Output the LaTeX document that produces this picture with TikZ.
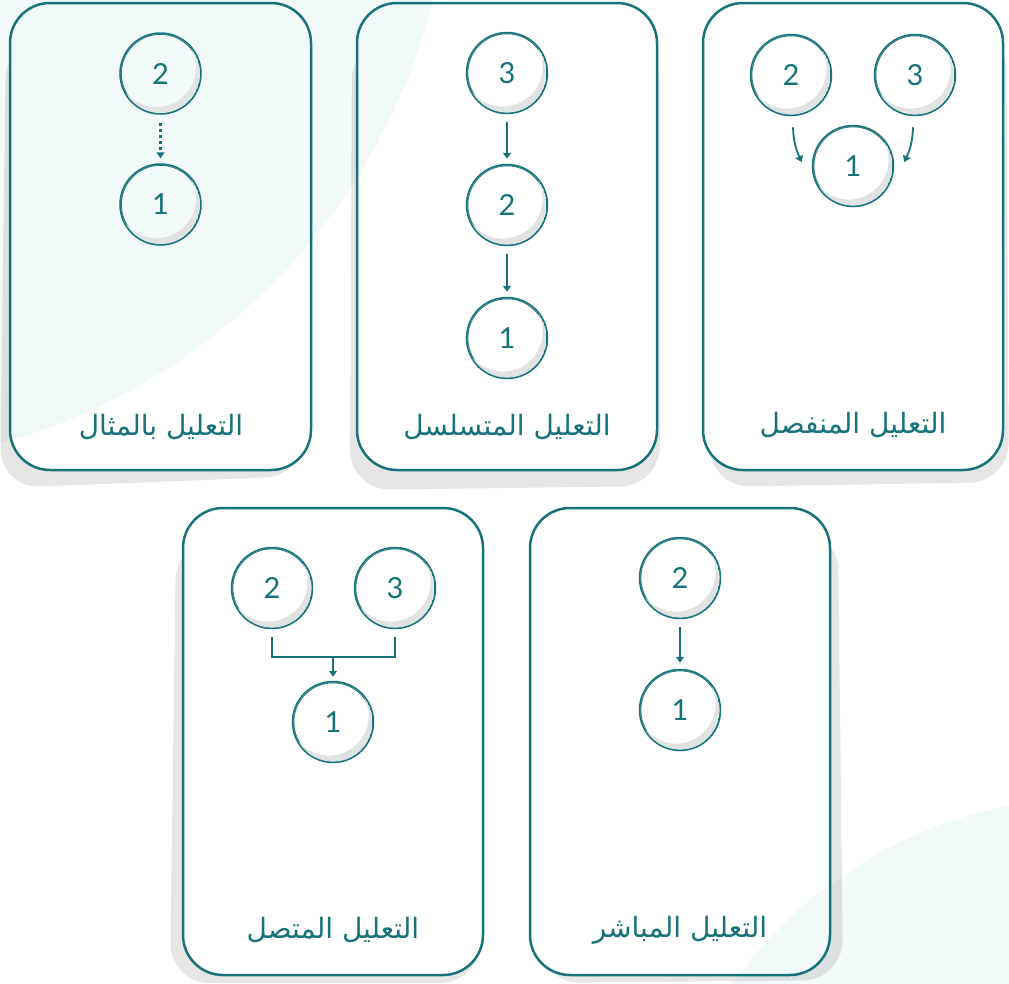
\documentclass[tikz,border=0pt]{standalone}
\usepackage{fontspec}
\usetikzlibrary{arrows.meta,calc}
\TeXXeTstate=1
\newfontfamily\arabicfont[Script=Arabic]{DejaVu Sans}
\newfontfamily\numfont{Lato}
\definecolor{tealc}{HTML}{17727A}
\definecolor{crescentc}{HTML}{E1E3E3}
\definecolor{shadowc}{HTML}{E6E6E6}
\definecolor{tintc}{RGB}{30,150,150}
\newcommand{\crescent}[1]{%
  \begin{scope}
    \clip (#1) circle (39.6pt);
    \fill[crescentc, even odd rule] (#1) circle (39.6pt) ([shift={(-4pt,6pt)}]#1) circle (39.6pt);
  \end{scope}}
\begin{document}
\begin{tikzpicture}[x=1pt,y=-1pt,
  cardbox/.style={draw=tealc, line width=2.5pt, rounded corners=40pt},
  cardfill/.style={fill=white, rounded corners=40pt},
  shad/.style={fill=shadowc, rounded corners=40pt},
  circ/.style={circle, draw=tealc, line width=2.5pt, minimum size=80pt, inner sep=0pt,
    text=tealc, font=\numfont\fontsize{29}{29}\selectfont},
  lab/.style={text=tealc, font=\arabicfont\fontsize{28}{32}\selectfont, inner sep=0pt},
  conn/.style={draw=tealc, line width=1.8pt},
  tip/.style={-{Triangle[length=6pt,width=8pt]}}]
\useasboundingbox (0,0) rectangle (1009,983);
\fill[white] (0,0) rectangle (1009,983);
% shadows
\fill[shad] (6,40) -- (0,488) -- (305,476) -- (305,40) -- cycle;
\fill[shad] (352,40) -- (350,490) -- (660,486) -- (660,40) -- cycle;
\fill[shad] (710,40) -- (710,487) -- (1009,482) -- (1006,30) -- cycle;
\fill[shad] (176,540) -- (170,983) -- (480,983) -- (480,540) -- cycle;
\fill[shad] (540,540) -- (540,983) -- (843,980) -- (838,530) -- cycle;
% card fills
\fill[cardfill] (10,3) rectangle (311,470);
\fill[cardfill] (357,3) rectangle (657,470);
\fill[cardfill] (703,3) rectangle (1003,470);
\fill[cardfill] (183,508) rectangle (483,975);
\fill[cardfill] (530,508) rectangle (830,975);
% background tint circles
\fill[tintc, opacity=0.053] (-166,-152) circle (618pt);
\fill[tintc, opacity=0.053] (1097,1247) circle (450pt);
% card borders
\draw[cardbox] (10,3) rectangle (311,470);
\draw[cardbox] (357,3) rectangle (657,470);
\draw[cardbox] (703,3) rectangle (1003,470);
\draw[cardbox] (183,508) rectangle (483,975);
\draw[cardbox] (530,508) rectangle (830,975);
% card 1
\node[circ] (a2) at (160.5,73.5) {2};
\node[circ] (a1) at (160.5,204.5) {1};
\crescent{a2}\crescent{a1}
\draw[conn, line width=3pt, tip, dash pattern=on 3.5pt off 2.5pt, shorten <=8pt, shorten >=5pt] (a2.south) -- (a1.north);
\node[lab] (t1) at (161,427) {\beginR التعليل بالمثال\endR};
% card 2
\node[circ] (b3) at (507,73) {3};
\node[circ] (b2) at (507,205) {2};
\node[circ] (b1) at (507,338) {1};
\crescent{b3}\crescent{b2}\crescent{b1}
\draw[conn, tip, shorten <=8pt, shorten >=5pt] (b3.south) -- (b2.north);
\draw[conn, tip, shorten <=8pt, shorten >=5pt] (b2.south) -- (b1.north);
\node[lab] (t2) at (507,427) {\beginR التعليل المتسلسل\endR};
% card 3
\node[circ] (c2) at (791,75) {2};
\node[circ] (c3) at (915,75) {3};
\node[circ] (c1) at (853,166) {1};
\crescent{c2}\crescent{c3}\crescent{c1}
\draw[conn, tip] ($(c2.south)+(2,11)$) to[out=-88,in=115] ($(c1.west)+(-10,-4)$);
\draw[conn, tip] ($(c3.south)+(-2,11)$) to[out=-92,in=65] ($(c1.east)+(10,-4)$);
\node[lab] (t3) at (853,425) {\beginR التعليل المنفصل\endR};
% card 4
\node[circ] (d2) at (272,588) {2};
\node[circ] (d3) at (395,588) {3};
\node[circ] (d1) at (333,722) {1};
\crescent{d2}\crescent{d3}\crescent{d1}
\coordinate (dm) at (333,657);
\draw[conn] ($(d2.south)+(0,8)$) |- (dm) -| ($(d3.south)+(0,8)$);
\draw[conn, tip, shorten >=4pt] (dm) -- (d1.north);
\node[lab] (t4) at (333,930) {\beginR التعليل المتصل\endR};
% card 5
\node[circ] (e2) at (680,578) {2};
\node[circ] (e1) at (680,710) {1};
\crescent{e2}\crescent{e1}
\draw[conn, tip, shorten <=8pt, shorten >=6pt] (e2.south) -- (e1.north);
\node[lab] (t5) at (680,930) {\beginR التعليل المباشر\endR};
\end{tikzpicture}
\end{document}
